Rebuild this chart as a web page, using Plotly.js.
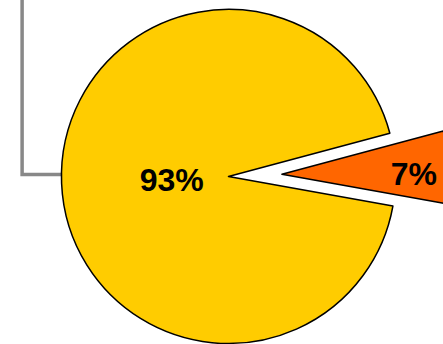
<!DOCTYPE html>
<html>
<head>
<meta charset="utf-8">
<script src="https://cdn.plot.ly/plotly-3.0.1.min.js"></script>
<style>
html,body{margin:0;padding:0;width:443px;height:344px;overflow:hidden;background:#fff;}
#chart{position:absolute;left:8px;top:-44px;width:441px;height:441px;}
</style>
</head>
<body>
<div id="chart"></div>
<script>
const labels = ["B", "A"];
const values = [7, 93];
const colors = ["#FF6600", "#FFCC00"];
const pulls = [0.32, 0];
const NB = "\u00a0";

const trace = {
  type: "pie",
  labels: labels,
  values: values,
  sort: false,
  direction: "clockwise",
  rotation: 75,
  pull: pulls,
  marker: {colors: colors, line: {color: "#000000", width: 1.5}},
  texttemplate: ["%{percent}" + NB, NB.repeat(6) + "%{percent}"],
  textposition: "inside",
  insidetextorientation: "horizontal",
  textfont: {family: "Liberation Sans, Arial, sans-serif", size: 32, color: "#000000", weight: "bold"},
  hoverinfo: "none",
  showlegend: false,
  domain: {x: [0, 1], y: [0, 1]}
};

const layout = {
  width: 441,
  height: 441,
  margin: {l: 0, r: 0, t: 0, b: 0},
  paper_bgcolor: "rgba(0,0,0,0)",
  plot_bgcolor: "rgba(0,0,0,0)",
  showlegend: false,
  shapes: [{
    type: "path",
    xref: "paper", yref: "paper",
    path: "M 0.032 1.0 L 0.032 0.5045 L 0.14 0.5045",
    line: {color: "#888888", width: 3.5},
    layer: "below"
  }]
};

Plotly.newPlot("chart", [trace], layout, {displayModeBar: false, staticPlot: true});
</script>
</body>
</html>
